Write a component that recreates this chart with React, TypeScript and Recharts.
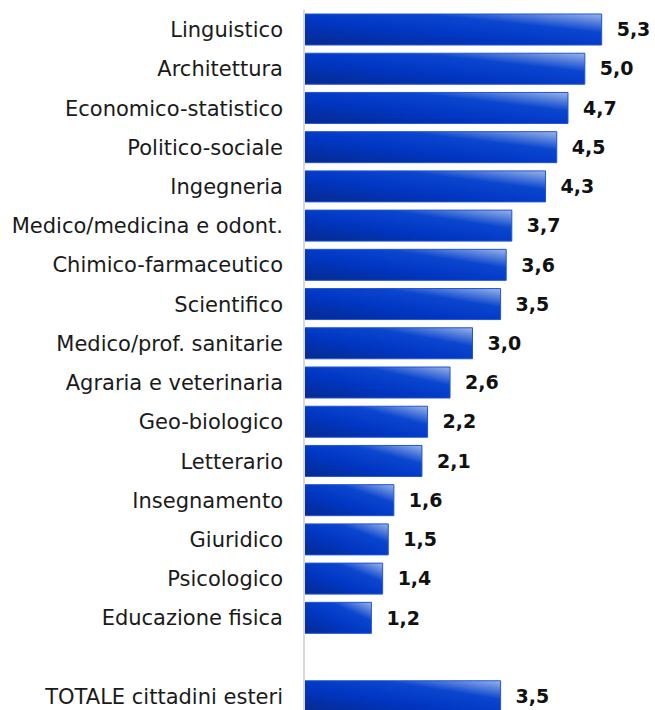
import { BarChart, Bar, XAxis, YAxis, LabelList } from 'recharts';

const categories = [
  'Linguistico',
  'Architettura',
  'Economico-statistico',
  'Politico-sociale',
  'Ingegneria',
  'Medico/medicina e odont.',
  'Chimico-farmaceutico',
  'Scientifico',
  'Medico/prof. sanitarie',
  'Agraria e veterinaria',
  'Geo-biologico',
  'Letterario',
  'Insegnamento',
  'Giuridico',
  'Psicologico',
  'Educazione fisica',
  ' ',
  'TOTALE cittadini esteri',
];

const values = [5.3, 5.0, 4.7, 4.5, 4.3, 3.7, 3.6, 3.5, 3.0, 2.6, 2.2, 2.1, 1.6, 1.5, 1.4, 1.2, null, 3.5];

const data = categories.map((name, i) => ({ name, value: values[i] }));

const FONT = '"DejaVu Sans", sans-serif';

const fmt = (v: any) => (v == null ? '' : Number(v).toFixed(1).replace('.', ','));

export default function App() {
  return (
    <div style={{ position: 'fixed', left: 0, top: 0, width: 655, height: 710, overflow: 'hidden', background: '#fff' }}>
      <BarChart
        width={655}
        height={716}
        data={data}
        layout="vertical"
        margin={{ top: 10, right: 14, bottom: 0, left: 0 }}
        barSize={31}
      >
        <defs>
          <linearGradient id="barFill" x1="0" y1="1" x2="1" y2="0">
            <stop offset="0%" stopColor="#062a8f" />
            <stop offset="40%" stopColor="#0036c2" />
            <stop offset="70%" stopColor="#0b46cf" />
            <stop offset="100%" stopColor="#9ab4e8" />
          </linearGradient>
        </defs>
        <XAxis type="number" domain={[0, 6]} hide />
        <YAxis
          type="category"
          dataKey="name"
          width={304}
          tickLine={false}
          tickSize={0}
          tickMargin={21}
          axisLine={{ stroke: '#d9d9d9', strokeWidth: 2 }}
          interval={0}
          tick={{ fontFamily: FONT, fontSize: 21, fill: '#1a1a1a' }}
        />
        <Bar dataKey="value" fill="url(#barFill)" stroke="#1f55d6" strokeWidth={1} isAnimationActive={false}>
          <LabelList
            dataKey="value"
            position="right"
            offset={15}
            formatter={fmt}
            style={{ fontFamily: FONT, fontSize: 19, fontWeight: 'bold', fill: '#111' }}
          />
        </Bar>
      </BarChart>
    </div>
  );
}
